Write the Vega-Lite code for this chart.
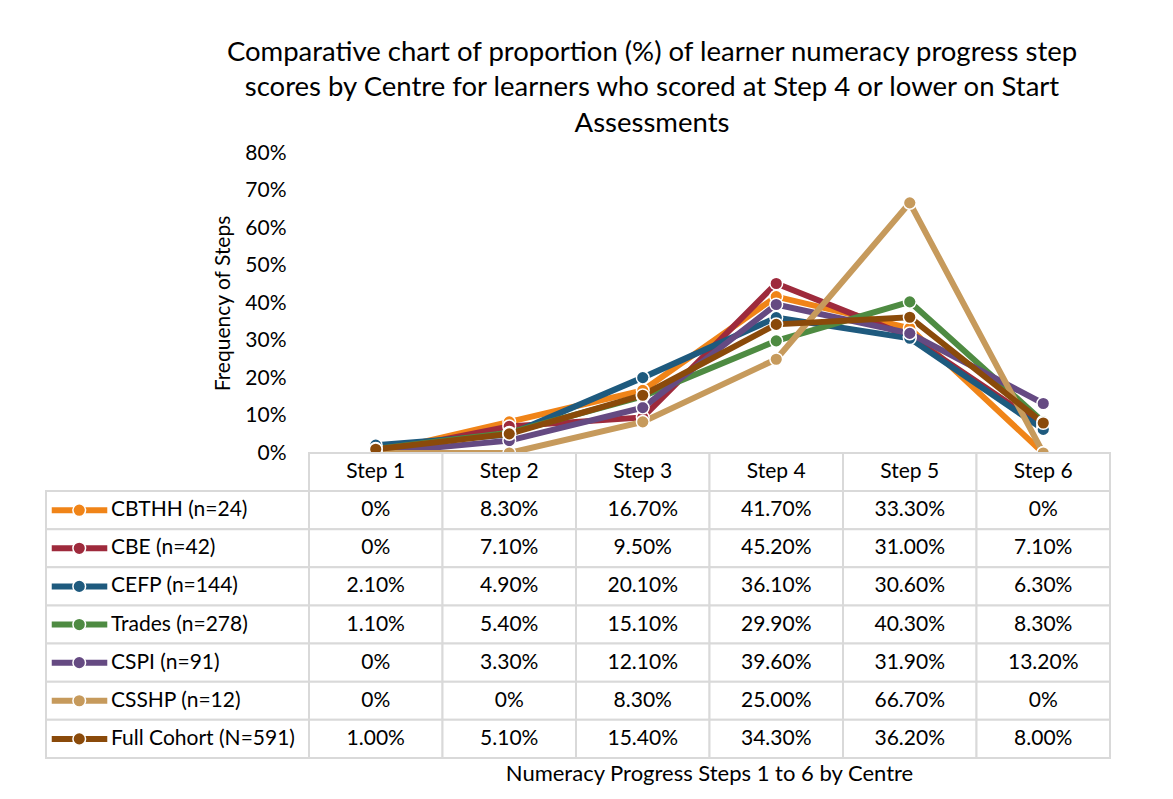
{
  "$schema": "https://vega.github.io/schema/vega-lite/v6.json",
  "width": 1064,
  "height": 605,
  "autosize": {"type": "none"},
  "padding": {"left": 46, "top": 153, "right": 63, "bottom": 41},
  "background": "white",
  "config": {"font": "Lato", "view": {"stroke": null}, "text": {"font": "Lato", "fontSize": 21, "color": "black"}},
  "title": {
    "text": ["Comparative chart of proportion (%) of learner numeracy progress step", "scores by Centre for learners who scored at Step 4 or lower on Start", "Assessments"],
    "fontSize": 27.5, "fontWeight": "normal", "color": "black", "font": "Lato", "anchor": "middle", "dx": 74, "offset": 5, "lineHeight": 35.5
  },
  "data": {"values": [
    {"s": "CBTHH (n=24)", "step": 1, "v": 0, "t": "0%"},
    {"s": "CBTHH (n=24)", "step": 2, "v": 0.083, "t": "8.30%"},
    {"s": "CBTHH (n=24)", "step": 3, "v": 0.167, "t": "16.70%"},
    {"s": "CBTHH (n=24)", "step": 4, "v": 0.417, "t": "41.70%"},
    {"s": "CBTHH (n=24)", "step": 5, "v": 0.333, "t": "33.30%"},
    {"s": "CBTHH (n=24)", "step": 6, "v": 0, "t": "0%"},
    {"s": "CBE (n=42)", "step": 1, "v": 0, "t": "0%"},
    {"s": "CBE (n=42)", "step": 2, "v": 0.071, "t": "7.10%"},
    {"s": "CBE (n=42)", "step": 3, "v": 0.095, "t": "9.50%"},
    {"s": "CBE (n=42)", "step": 4, "v": 0.452, "t": "45.20%"},
    {"s": "CBE (n=42)", "step": 5, "v": 0.31, "t": "31.00%"},
    {"s": "CBE (n=42)", "step": 6, "v": 0.071, "t": "7.10%"},
    {"s": "CEFP (n=144)", "step": 1, "v": 0.021, "t": "2.10%"},
    {"s": "CEFP (n=144)", "step": 2, "v": 0.049, "t": "4.90%"},
    {"s": "CEFP (n=144)", "step": 3, "v": 0.201, "t": "20.10%"},
    {"s": "CEFP (n=144)", "step": 4, "v": 0.361, "t": "36.10%"},
    {"s": "CEFP (n=144)", "step": 5, "v": 0.306, "t": "30.60%"},
    {"s": "CEFP (n=144)", "step": 6, "v": 0.063, "t": "6.30%"},
    {"s": "Trades (n=278)", "step": 1, "v": 0.011, "t": "1.10%"},
    {"s": "Trades (n=278)", "step": 2, "v": 0.054, "t": "5.40%"},
    {"s": "Trades (n=278)", "step": 3, "v": 0.151, "t": "15.10%"},
    {"s": "Trades (n=278)", "step": 4, "v": 0.299, "t": "29.90%"},
    {"s": "Trades (n=278)", "step": 5, "v": 0.403, "t": "40.30%"},
    {"s": "Trades (n=278)", "step": 6, "v": 0.083, "t": "8.30%"},
    {"s": "CSPI (n=91)", "step": 1, "v": 0, "t": "0%"},
    {"s": "CSPI (n=91)", "step": 2, "v": 0.033, "t": "3.30%"},
    {"s": "CSPI (n=91)", "step": 3, "v": 0.121, "t": "12.10%"},
    {"s": "CSPI (n=91)", "step": 4, "v": 0.396, "t": "39.60%"},
    {"s": "CSPI (n=91)", "step": 5, "v": 0.319, "t": "31.90%"},
    {"s": "CSPI (n=91)", "step": 6, "v": 0.132, "t": "13.20%"},
    {"s": "CSSHP (n=12)", "step": 1, "v": 0, "t": "0%"},
    {"s": "CSSHP (n=12)", "step": 2, "v": 0, "t": "0%"},
    {"s": "CSSHP (n=12)", "step": 3, "v": 0.083, "t": "8.30%"},
    {"s": "CSSHP (n=12)", "step": 4, "v": 0.25, "t": "25.00%"},
    {"s": "CSSHP (n=12)", "step": 5, "v": 0.667, "t": "66.70%"},
    {"s": "CSSHP (n=12)", "step": 6, "v": 0, "t": "0%"},
    {"s": "Full Cohort (N=591)", "step": 1, "v": 0.01, "t": "1.00%"},
    {"s": "Full Cohort (N=591)", "step": 2, "v": 0.051, "t": "5.10%"},
    {"s": "Full Cohort (N=591)", "step": 3, "v": 0.154, "t": "15.40%"},
    {"s": "Full Cohort (N=591)", "step": 4, "v": 0.343, "t": "34.30%"},
    {"s": "Full Cohort (N=591)", "step": 5, "v": 0.362, "t": "36.20%"},
    {"s": "Full Cohort (N=591)", "step": 6, "v": 0.08, "t": "8.00%"}
  ]},
  "layer": [
    {
      "mark": {"type": "line", "strokeWidth": 6},
      "encoding": {
        "x": {"field": "step", "type": "quantitative", "scale": {"domain": [-1.47, 6.5], "nice": false, "zero": false}, "axis": null},
        "y": {"field": "v", "type": "quantitative", "scale": {"domain": [0, 0.8], "range": [300, 0], "nice": false, "zero": false},
          "axis": {"values": [0, 0.1, 0.2, 0.3, 0.4, 0.5, 0.6, 0.7, 0.8], "format": ".0%", "labelFontSize": 21, "labelColor": "black", "labelFont": "Lato", "domain": false, "ticks": false, "grid": false, "offset": -263, "labelPadding": 23, "title": "Frequency of Steps", "titleFontSize": 21, "titleFontWeight": "normal", "titleColor": "black", "titleFont": "Lato", "titlePadding": 11}},
        "color": {"field": "s", "type": "nominal",
          "scale": {"domain": ["CBTHH (n=24)", "CBE (n=42)", "CEFP (n=144)", "Trades (n=278)", "CSPI (n=91)", "CSSHP (n=12)", "Full Cohort (N=591)"],
            "range": ["#F08418", "#9E2A3C", "#1E5A7E", "#4E8B42", "#654A82", "#C69A5C", "#8A4A0A"]},
          "legend": null},
        "order": {"field": "step"}
      }
    },
    {
      "mark": {"type": "point", "filled": true, "size": 160, "opacity": 1, "strokeWidth": 1.5},
      "encoding": {
        "x": {"field": "step", "type": "quantitative", "scale": {"domain": [-1.47, 6.5], "nice": false, "zero": false}, "axis": null},
        "y": {"field": "v", "type": "quantitative", "scale": {"domain": [0, 0.8], "range": [300, 0], "nice": false, "zero": false}, "axis": null},
        "fill": {"field": "s", "type": "nominal",
          "scale": {"domain": ["CBTHH (n=24)", "CBE (n=42)", "CEFP (n=144)", "Trades (n=278)", "CSPI (n=91)", "CSSHP (n=12)", "Full Cohort (N=591)"],
            "range": ["#F08418", "#9E2A3C", "#1E5A7E", "#4E8B42", "#654A82", "#C69A5C", "#8A4A0A"]},
          "legend": null},
        "stroke": {"value": "white"}
      }
    },
    {
      "layer": [
        {
          "mark": {"type": "rect", "width": 133.5, "fill": "white", "stroke": "#d9d9d9", "strokeWidth": 2},
          "encoding": {
            "x": {"field": "step", "type": "quantitative", "scale": {"domain": [-1.47, 6.5], "nice": false, "zero": false}, "axis": null},
            "y": {"field": "s", "type": "nominal", "scale": {"type": "band", "domain": ["hdr", "CBTHH (n=24)", "CBE (n=42)", "CEFP (n=144)", "Trades (n=278)", "CSPI (n=91)", "CSSHP (n=12)", "Full Cohort (N=591)", "ftr"], "range": [300, 643.1], "paddingInner": 0, "paddingOuter": 0}, "axis": null}
          }
        },
        {
          "data": {"values": [{"step": 1, "name": "Step 1"}, {"step": 2, "name": "Step 2"}, {"step": 3, "name": "Step 3"}, {"step": 4, "name": "Step 4"}, {"step": 5, "name": "Step 5"}, {"step": 6, "name": "Step 6"}]},
          "layer": [
            {
              "mark": {"type": "rect", "width": 133.5, "fill": "white", "stroke": "#d9d9d9", "strokeWidth": 2},
              "encoding": {
                "x": {"field": "step", "type": "quantitative", "scale": {"domain": [-1.47, 6.5], "nice": false, "zero": false}, "axis": null},
                "y": {"datum": "hdr", "type": "nominal", "axis": null}
              }
            },
            {
              "mark": {"type": "text", "baseline": "middle", "align": "center"},
              "encoding": {
                "x": {"field": "step", "type": "quantitative", "scale": {"domain": [-1.47, 6.5], "nice": false, "zero": false}, "axis": null},
                "y": {"datum": "hdr", "type": "nominal", "axis": null},
                "text": {"field": "name"}
              }
            }
          ]
        },
        {
          "mark": {"type": "text", "baseline": "middle", "align": "center"},
          "encoding": {
            "x": {"field": "step", "type": "quantitative", "scale": {"domain": [-1.47, 6.5], "nice": false, "zero": false}, "axis": null},
            "y": {"field": "s", "type": "nominal", "axis": null},
            "text": {"field": "t"}
          }
        },
        {
          "data": {"values": [{"caption": "Numeracy Progress Steps 1 to 6 by Centre"}]},
          "mark": {"type": "text", "baseline": "middle", "align": "center", "dy": -3, "fontSize": 22},
          "encoding": {
            "x": {"datum": 3.5, "type": "quantitative", "axis": null},
            "y": {"datum": "ftr", "type": "nominal", "axis": null},
            "text": {"field": "caption"}
          }
        },
        {
          "transform": [{"filter": "datum.step == 1"}],
          "layer": [
            {
              "mark": {"type": "rect", "width": 263, "fill": "white", "stroke": "#d9d9d9", "strokeWidth": 2},
              "encoding": {
                "x": {"datum": -0.485, "type": "quantitative", "scale": {"domain": [-1.47, 6.5], "nice": false, "zero": false}, "axis": null},
                "y": {"field": "s", "type": "nominal", "axis": null}
              }
            },
            {
              "mark": {"type": "rule", "strokeWidth": 6},
              "encoding": {
                "x": {"datum": -1.427, "type": "quantitative", "axis": null},
                "x2": {"datum": -1.011},
                "y": {"field": "s", "type": "nominal", "axis": null},
                "color": {"field": "s", "type": "nominal", "legend": null}
              }
            },
            {
              "mark": {"type": "point", "filled": true, "size": 160, "opacity": 1, "strokeWidth": 1.5},
              "encoding": {
                "x": {"datum": -1.221, "type": "quantitative", "axis": null},
                "y": {"field": "s", "type": "nominal", "axis": null},
                "fill": {"field": "s", "type": "nominal", "legend": null},
                "stroke": {"value": "white"}
              }
            },
            {
              "mark": {"type": "text", "baseline": "middle", "align": "left"},
              "encoding": {
                "x": {"datum": -0.983, "type": "quantitative", "axis": null},
                "y": {"field": "s", "type": "nominal", "axis": null},
                "text": {"field": "s"}
              }
            }
          ]
        }
      ]
    }
  ],
  "resolve": {"scale": {"y": "independent"}}
}
